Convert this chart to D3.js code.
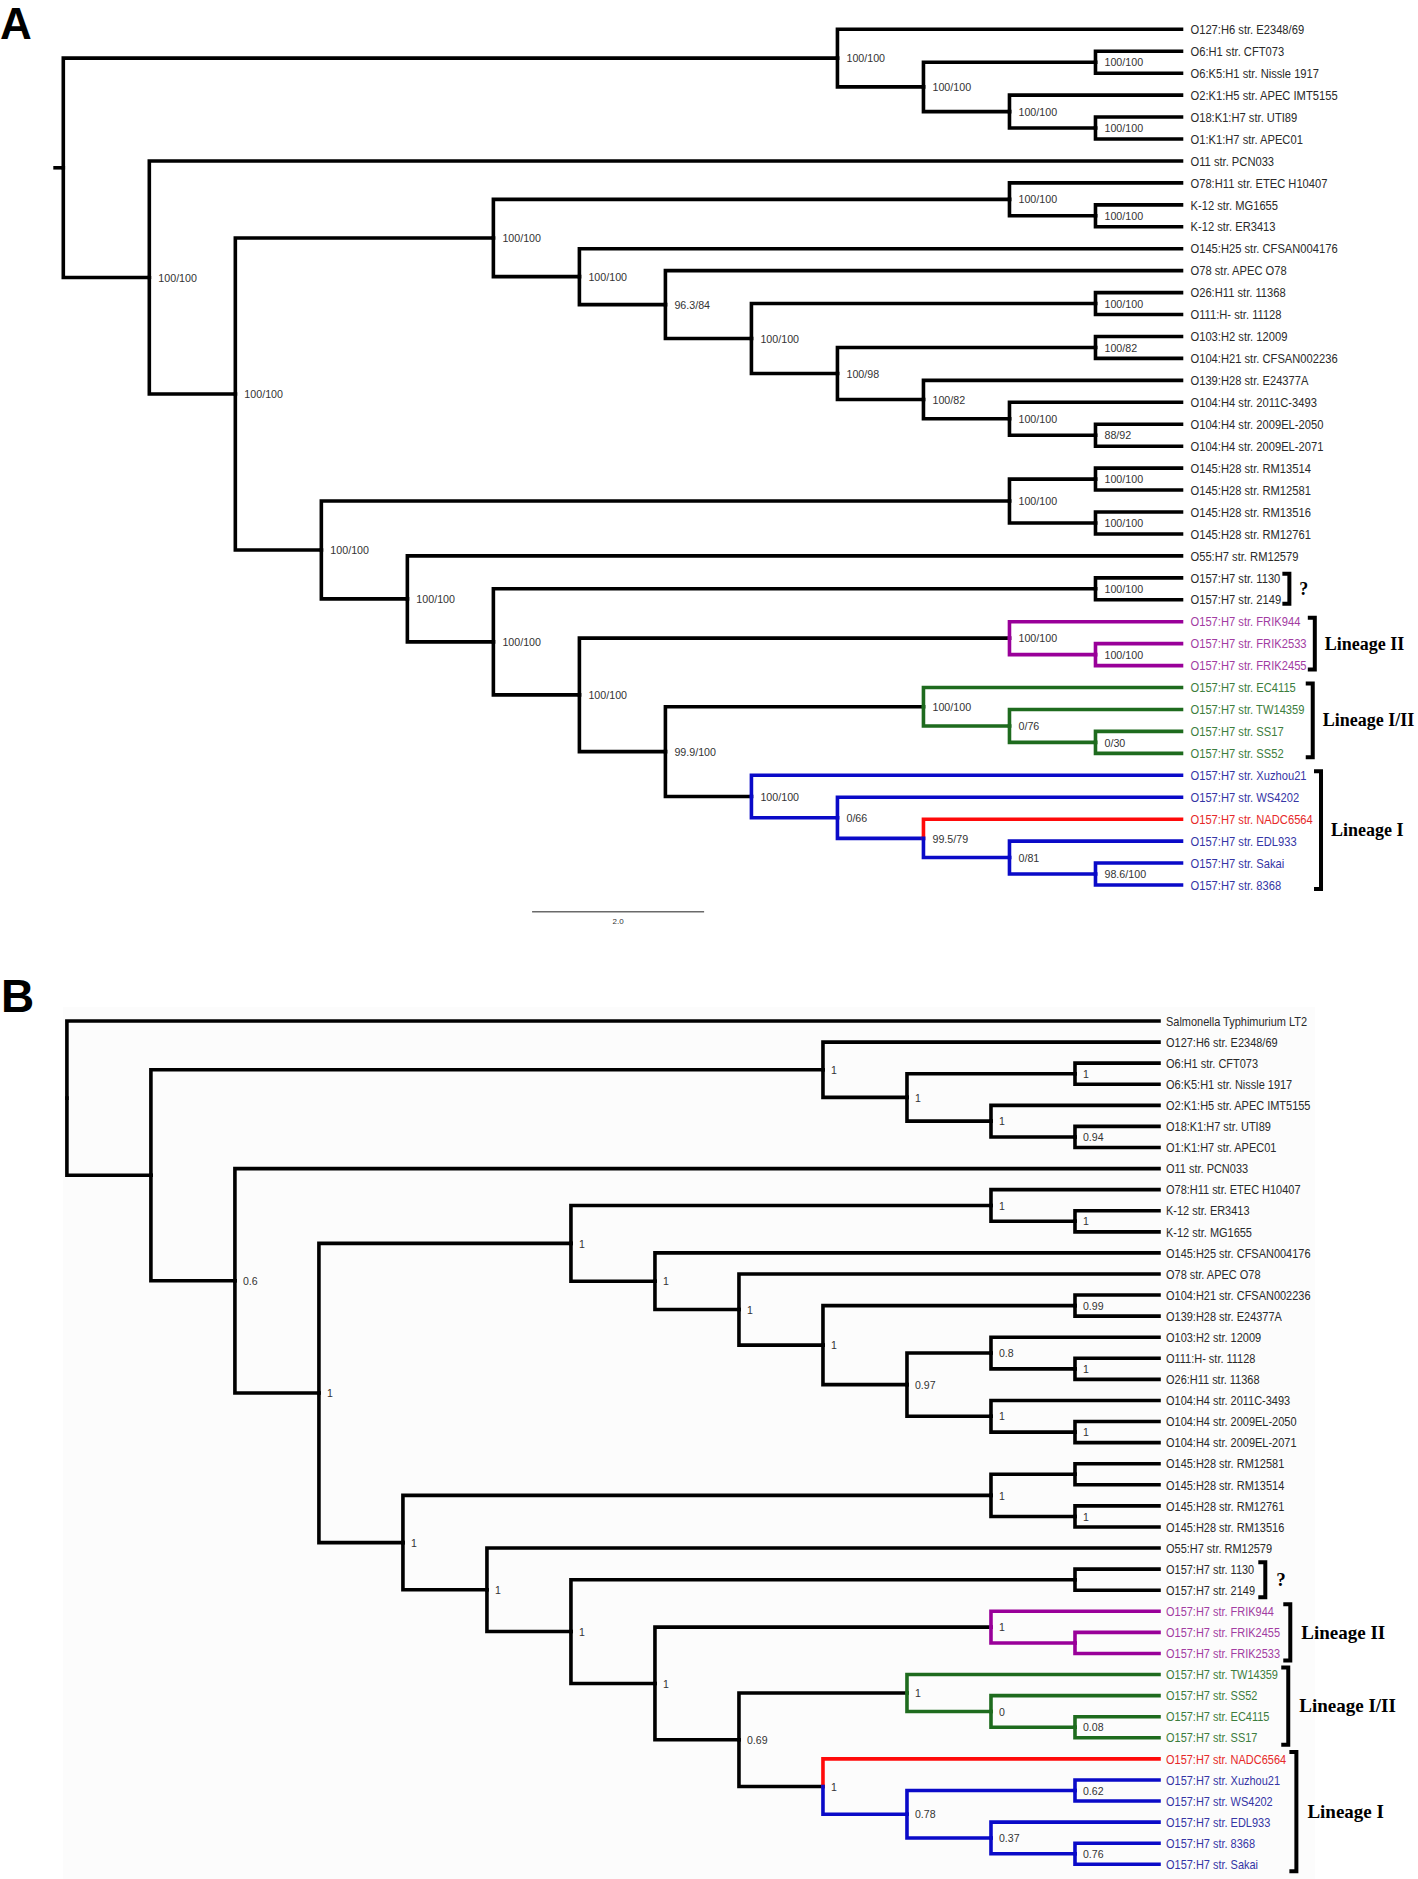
<!DOCTYPE html>
<html><head><meta charset="utf-8">
<script src="https://cdn.jsdelivr.net/npm/d3@7"></script>
<style>body{margin:0;background:#fff}svg{display:block}</style>
</head><body>
<svg id="chart" width="1418" height="1879"></svg>
<script>
// ---------------- DATA ----------------
// Panel A internal nodes: [id, parent, position (tree units), support, lineage]
const nodesA = [
  ["r", null, 0, ""],
  ["a1","r",9,"100/100"],["a2","a1",10,"100/100"],["a3","a2",12,"100/100"],["a4","a2",11,"100/100"],["a5","a4",12,"100/100"],
  ["b","r",1,"100/100"],["c","b",2,"100/100"],
  ["d","c",5,"100/100"],["d1","d",11,"100/100"],["d2","d1",12,"100/100"],
  ["f","d",6,"100/100"],["g","f",7,"96.3/84"],["h","g",8,"100/100"],["h1","h",12,"100/100"],
  ["i","h",9,"100/98"],["i1","i",12,"100/82"],["j","i",10,"100/82"],["k","j",11,"100/100"],["k1","k",12,"88/92"],
  ["e","c",3,"100/100"],["e1","e",11,"100/100"],["e2","e1",12,"100/100"],["e3","e1",12,"100/100"],
  ["m","e",4,"100/100"],["n","m",5,"100/100"],["n1","n",12,"100/100"],["p","n",6,"100/100"],
  ["p1","p",11,"100/100"],["p2","p1",12,"100/100","II"],
  ["q","p",7,"99.9/100"],
  ["g1","q",10,"100/100"],["g2","g1",11,"0/76","I/II"],["g3","g2",12,"0/30","I/II"],
  ["l1","q",8,"100/100"],["l2","l1",9,"0/66","I"],["l3","l2",10,"99.5/79","I"],["l4","l3",11,"0/81","I"],["l5","l4",12,"98.6/100","I"]
];
// Panel A leaves: [name, parent, lineage]
const leavesA = [
  ["O127:H6 str. E2348/69","a1"],["O6:H1 str. CFT073","a3"],["O6:K5:H1 str. Nissle 1917","a3"],
  ["O2:K1:H5 str. APEC IMT5155","a4"],["O18:K1:H7 str. UTI89","a5"],["O1:K1:H7 str. APEC01","a5"],
  ["O11 str. PCN033","b"],["O78:H11 str. ETEC H10407","d1"],["K-12 str. MG1655","d2"],["K-12 str. ER3413","d2"],
  ["O145:H25 str. CFSAN004176","f"],["O78 str. APEC O78","g"],["O26:H11 str. 11368","h1"],["O111:H- str. 11128","h1"],
  ["O103:H2 str. 12009","i1"],["O104:H21 str. CFSAN002236","i1"],["O139:H28 str. E24377A","j"],
  ["O104:H4 str. 2011C-3493","k"],["O104:H4 str. 2009EL-2050","k1"],["O104:H4 str. 2009EL-2071","k1"],
  ["O145:H28 str. RM13514","e2"],["O145:H28 str. RM12581","e2"],["O145:H28 str. RM13516","e3"],["O145:H28 str. RM12761","e3"],
  ["O55:H7 str. RM12579","m"],["O157:H7 str. 1130","n1"],["O157:H7 str. 2149","n1"],
  ["O157:H7 str. FRIK944","p1","II"],["O157:H7 str. FRIK2533","p2","II"],["O157:H7 str. FRIK2455","p2","II"],
  ["O157:H7 str. EC4115","g1","I/II"],["O157:H7 str. TW14359","g2","I/II"],["O157:H7 str. SS17","g3","I/II"],["O157:H7 str. SS52","g3","I/II"],
  ["O157:H7 str. Xuzhou21","l1","I"],["O157:H7 str. WS4202","l2","I"],["O157:H7 str. NADC6564","l3","R"],
  ["O157:H7 str. EDL933","l4","I"],["O157:H7 str. Sakai","l5","I"],["O157:H7 str. 8368","l5","I"]
];
// Panel A lineage brackets: [label, first leaf index, last leaf index]
const bracketsA = [["?",25,26],["Lineage II",27,29],["Lineage I/II",30,33],["Lineage I",34,39]];
const scaleBarA = [5.45, 2.0, "2.0"];

// Panel B internal nodes
const nodesB = [
  ["r",null,0,""],["s1","r",1,""],
  ["t1","s1",9,"1"],["t2","t1",10,"1"],["t3","t2",12,"1"],["t4","t2",11,"1"],["t5","t4",12,"0.94"],
  ["u","s1",2,"0.6"],["v","u",3,"1"],
  ["w","v",6,"1"],["w1","w",11,"1"],["w2","w1",12,"1"],
  ["x","w",7,"1"],["x1","x",8,"1"],["y","x1",9,"1"],["y1","y",12,"0.99"],
  ["z","y",10,"0.97"],["z1","z",11,"0.8"],["z2","z1",12,"1"],["z3","z",11,"1"],["z4","z3",12,"1"],
  ["aa","v",4,"1"],["ab","aa",11,"1"],["ab1","ab",12,""],["ab2","ab",12,"1"],
  ["ac","aa",5,"1"],["ad","ac",6,"1"],["ad1","ad",12,""],["ae","ad",7,"1"],
  ["pu","ae",11,"1"],["pu1","pu",12,"","II"],
  ["af","ae",8,"0.69"],
  ["gr","af",10,"1"],["gr1","gr",11,"0","I/II"],["gr2","gr1",12,"0.08","I/II"],
  ["bl","af",9,"1"],["bl1","bl",10,"0.78","I"],["bl2","bl1",12,"0.62","I"],["bl3","bl1",11,"0.37","I"],["bl4","bl3",12,"0.76","I"]
];
const leavesB = [
  ["Salmonella Typhimurium LT2","r"],["O127:H6 str. E2348/69","t1"],["O6:H1 str. CFT073","t3"],["O6:K5:H1 str. Nissle 1917","t3"],
  ["O2:K1:H5 str. APEC IMT5155","t4"],["O18:K1:H7 str. UTI89","t5"],["O1:K1:H7 str. APEC01","t5"],
  ["O11 str. PCN033","u"],["O78:H11 str. ETEC H10407","w1"],["K-12 str. ER3413","w2"],["K-12 str. MG1655","w2"],
  ["O145:H25 str. CFSAN004176","x"],["O78 str. APEC O78","x1"],["O104:H21 str. CFSAN002236","y1"],["O139:H28 str. E24377A","y1"],
  ["O103:H2 str. 12009","z1"],["O111:H- str. 11128","z2"],["O26:H11 str. 11368","z2"],
  ["O104:H4 str. 2011C-3493","z3"],["O104:H4 str. 2009EL-2050","z4"],["O104:H4 str. 2009EL-2071","z4"],
  ["O145:H28 str. RM12581","ab1"],["O145:H28 str. RM13514","ab1"],["O145:H28 str. RM12761","ab2"],["O145:H28 str. RM13516","ab2"],
  ["O55:H7 str. RM12579","ac"],["O157:H7 str. 1130","ad1"],["O157:H7 str. 2149","ad1"],
  ["O157:H7 str. FRIK944","pu","II"],["O157:H7 str. FRIK2455","pu1","II"],["O157:H7 str. FRIK2533","pu1","II"],
  ["O157:H7 str. TW14359","gr","I/II"],["O157:H7 str. SS52","gr1","I/II"],["O157:H7 str. EC4115","gr2","I/II"],["O157:H7 str. SS17","gr2","I/II"],
  ["O157:H7 str. NADC6564","bl","R"],["O157:H7 str. Xuzhou21","bl2","I"],["O157:H7 str. WS4202","bl2","I"],
  ["O157:H7 str. EDL933","bl3","I"],["O157:H7 str. 8368","bl4","I"],["O157:H7 str. Sakai","bl4","I"]
];
const bracketsB = [["?",26,27],["Lineage II",28,30],["Lineage I/II",31,34],["Lineage I",35,40]];
const tipDepth = 13;

// ---------------- STYLE ----------------
const lineColor = {II:"#990099","I/II":"#1e6b1e",I:"#0a0ac8",R:"#ff0a0a"};
const textColor = {II:"#a23ca2","I/II":"#3c7d3c",I:"#3535a5",R:"#e62828"};
const svg = d3.select("#chart");

function drawTree(nodes, leaves, brackets, o) {
  const rows = nodes.map(d => ({id:d[0], parent:d[1], pos:d[2], support:d[3], group:d[4]||null, leaf:false}));
  leaves.forEach((d,i) => rows.push({id:"leaf"+i, parent:d[1], pos:tipDepth, name:d[0], group:d[2]||null, leaf:true, index:i}));
  const root = d3.stratify().id(d=>d.id).parentId(d=>d.parent)(rows);
  const x = d3.scaleLinear().domain([0, tipDepth]).range(o.xRange);
  const y = d3.scaleLinear().domain([0, leaves.length-1]).range(o.yRange);
  root.eachAfter(n => {
    if (!n.children) { n.yy = y(n.data.index); n.minI = n.data.index; }
    else {
      n.children.sort((a,b)=>a.minI-b.minI);
      n.minI = n.children[0].minI;
      n.yy = (n.children[0].yy + n.children[n.children.length-1].yy)/2;
    }
  });
  const g = svg.append("g");
  const links = root.descendants().filter(n=>n.parent);
  links.sort((a,b)=> (a.data.group?1:0)-(b.data.group?1:0));
  g.selectAll("path.edge").data(links).join("path")
    .attr("class","edge")
    .attr("d", n => `M${x(n.parent.data.pos)},${n.parent.yy}V${n.yy}H${x(n.data.pos)}`)
    .attr("fill","none")
    .attr("stroke", n => n.data.group ? lineColor[n.data.group] : "#000")
    .attr("stroke-width", o.sw)
    .attr("stroke-linecap","square")
    .attr("stroke-linejoin","miter");
  if (o.stub) {
    g.append("path").attr("d", `M${x(0)-o.stub},${root.yy}H${x(0)}`)
      .attr("stroke","#000").attr("stroke-width", o.sw);
  }
  // support labels
  root.descendants().filter(n=>n.children && n.data.support).forEach(n => {
    g.append("text")
      .attr("transform", `translate(${x(n.data.pos)+o.supOff},${n.yy}) scale(${o.supScale},1)`)
      .attr("dy","0.36em")
      .attr("font-family","'Liberation Sans', Arial, sans-serif")
      .attr("font-size", o.supSize)
      .attr("fill","#333")
      .text(n.data.support);
  });
  // leaf labels
  const ends = [];
  root.leaves().forEach(n => {
    const t = g.append("text")
      .attr("transform", `translate(${x(tipDepth)+o.leafOff},${n.yy}) scale(${o.leafScale},1)`)
      .attr("dy","0.36em")
      .attr("font-family","'Liberation Sans', Arial, sans-serif")
      .attr("font-size", o.leafSize)
      .attr("fill", n.data.group ? textColor[n.data.group] : "#2a2a2a")
      .text(n.data.name);
    ends[n.data.index] = t.node().getBoundingClientRect().right;
  });
  // brackets
  brackets.forEach(b => {
    const bx = d3.max(ends.slice(b[1], b[2]+1)) + o.brGap;
    const y0 = y(b[1]) - o.brPad, y1 = y(b[2]) + o.brPad;
    g.append("path").attr("d", `M${bx-7},${y0}H${bx}V${y1}H${bx-7}`)
      .attr("fill","none").attr("stroke","#000").attr("stroke-width",4).attr("stroke-linejoin","miter");
    g.append("text").attr("x", bx+o.brLabOff).attr("y",(y0+y1)/2).attr("dy","0.33em")
      .attr("font-family","'Liberation Serif','Times New Roman',serif").attr("font-weight","bold")
      .attr("font-size", o.brSize).attr("fill","#000").text(b[0]);
  });
  return {x, y};
}

// panel B background (faint off-white image area)
svg.append("rect").attr("x",63).attr("y",1007).attr("width",1252).attr("height",872).attr("fill","#fcfcfc");

const A = drawTree(nodesA, leavesA, bracketsA, {
  xRange:[63.3,1181.5], yRange:[29.3,885], sw:3.6, stub:10,
  supOff:9, supScale:0.93, supSize:"11.5px",
  leafOff:9, leafScale:0.86, leafSize:"13px",
  brGap:8, brPad:4, brLabOff:10, brSize:"18px"
});
// scale bar
svg.append("line").attr("x1",A.x(scaleBarA[0])).attr("x2",A.x(scaleBarA[0]+scaleBarA[1]))
  .attr("y1",911.7).attr("y2",911.7).attr("stroke","#6a6a6a").attr("stroke-width",1.6);
svg.append("text").attr("x",(A.x(scaleBarA[0])+A.x(scaleBarA[0]+scaleBarA[1]))/2).attr("y",924)
  .attr("text-anchor","middle").attr("font-family","'Liberation Sans',Arial,sans-serif").attr("font-size","8px")
  .attr("fill","#333").text(scaleBarA[2]);

drawTree(nodesB, leavesB, bracketsB, {
  xRange:[66.9,1159], yRange:[1021,1864.3], sw:3.6, stub:0,
  supOff:8, supScale:0.92, supSize:"11.5px",
  leafOff:7, leafScale:0.845, leafSize:"13px",
  brGap:10, brPad:7, brLabOff:11, brSize:"19px"
});

// panel letters
svg.append("text").attr("x",0).attr("y",38.5).attr("font-family","'Liberation Sans',Arial,sans-serif")
  .attr("font-weight","bold").attr("font-size","44px").attr("fill","#000").text("A");
svg.append("text").attr("x",1).attr("y",1011.5).attr("font-family","'Liberation Sans',Arial,sans-serif")
  .attr("font-weight","bold").attr("font-size","46px").attr("fill","#000").text("B");
</script>
</body></html>
